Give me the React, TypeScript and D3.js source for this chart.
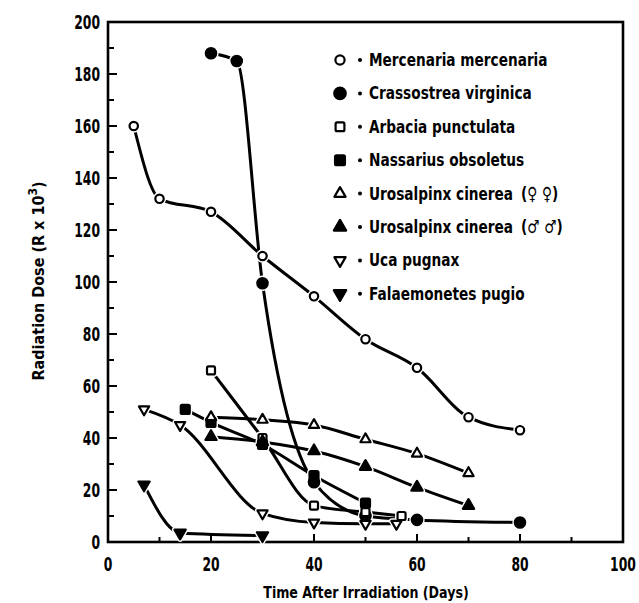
import React from "react";
import * as d3 from "d3";

const W = 639;
const H = 603;

// ---- data ----
const mercenariaDays = [5, 10, 20, 30, 40, 50, 60, 70, 80];
const mercenariaDose = [160, 132, 127, 110, 94.5, 78, 67, 48, 43];

const crassostreaDays = [20, 25, 30, 40, 50, 60, 80];
const crassostreaDose = [188, 185, 99.5, 23, 10, 8.5, 7.5];

const arbaciaDays = [20, 30, 40, 50, 57];
const arbaciaDose = [66, 40, 14, 11.5, 10];

const nassariusDays = [15, 20, 30, 40, 50];
const nassariusDose = [51, 46, 37.5, 25.5, 15];

const uroFemaleDays = [20, 30, 40, 50, 60, 70];
const uroFemaleDose = [48, 47, 45, 39.5, 34, 26.5];

const uroMaleDays = [20, 30, 40, 50, 60, 70];
const uroMaleDose = [40.5, 38.5, 35, 29, 21, 14];

const ucaDays = [7, 14, 30, 40, 50, 56];
const ucaDose = [51, 45, 11, 7.5, 7, 7];

const palaemonetesDays = [7, 14, 30];
const palaemonetesDose = [22, 3.5, 2.5];

const speciesNames = [
  "Mercenaria mercenaria",
  "Crassostrea virginica",
  "Arbacia punctulata",
  "Nassarius obsoletus",
  "Urosalpinx cinerea",
  "Urosalpinx cinerea",
  "Uca pugnax",
  "Falaemonetes pugio",
];
const sexLabels = ["", "", "", "", "(\u2640 \u2640)", "(\u2642 \u2642)", "", ""];
const markerTypes = [
  "circle-open",
  "circle-filled",
  "square-open",
  "square-filled",
  "tri-up-open",
  "tri-up-filled",
  "tri-down-open",
  "tri-down-filled",
];

const xTicks = [0, 20, 40, 60, 80, 100];
const yTicks = [0, 20, 40, 60, 80, 100, 120, 140, 160, 180, 200];

const seriesDays = [
  mercenariaDays,
  crassostreaDays,
  arbaciaDays,
  nassariusDays,
  uroFemaleDays,
  uroMaleDays,
  ucaDays,
  palaemonetesDays,
];
const seriesDose = [
  mercenariaDose,
  crassostreaDose,
  arbaciaDose,
  nassariusDose,
  uroFemaleDose,
  uroMaleDose,
  ucaDose,
  palaemonetesDose,
];

const FONT = "'DejaVu Sans', sans-serif";

const plot = { left: 108, right: 623, top: 22, bottom: 542 };
const x = d3.scaleLinear().domain([0, 100]).range([plot.left, plot.right]);
const y = d3.scaleLinear().domain([0, 200]).range([plot.bottom, plot.top]);

function CText({
  x: tx,
  y: ty,
  sx = 0.8,
  size,
  anchor = "start",
  rotate = 0,
  children,
}: {
  x: number;
  y: number;
  sx?: number;
  size: number;
  anchor?: string;
  rotate?: number;
  children: React.ReactNode;
}) {
  return (
    <g transform={`translate(${tx},${ty}) rotate(${rotate})`}>
      <text transform={`scale(${sx},1)`} textAnchor={anchor} fontSize={size}>
        {children}
      </text>
    </g>
  );
}

function Marker({
  type,
  cx,
  cy,
  halo,
  k = 1,
}: {
  type: string;
  cx: number;
  cy: number;
  halo?: boolean;
  k?: number;
}) {
  const filled = type.endsWith("filled");
  const shape = type.startsWith("tri") ? type.split("-").slice(0, 2).join("-") : type.split("-")[0];
  const fill = halo ? "white" : filled ? "black" : "white";
  const stroke = halo ? "white" : "black";
  const sw = halo ? 5 : 2.2;
  if (shape === "circle") {
    const r = (filled ? 5.2 : 4.2) * k;
    return <circle cx={cx} cy={cy} r={r} fill={fill} stroke={stroke} strokeWidth={sw} />;
  }
  if (shape === "square") {
    const s = (filled ? 9 : 8) * k;
    return (
      <rect x={cx - s / 2} y={cy - s / 2} width={s} height={s} rx={1.5} fill={fill} stroke={stroke} strokeWidth={sw} />
    );
  }
  const up = shape === "tri-up";
  const area = (filled ? 55 : 45) * k * k;
  const d = d3.symbol().type(d3.symbolTriangle).size(area)() as string;
  return (
    <path
      d={d}
      transform={`translate(${cx},${cy}) rotate(${up ? 0 : 180})`}
      fill={fill}
      stroke={stroke}
      strokeWidth={sw}
      strokeLinejoin="round"
    />
  );
}

export default function App() {
  const line = d3
    .line<[number, number]>()
    .x((d) => x(d[0]))
    .y((d) => y(d[1]))
    .curve(d3.curveMonotoneX);

  const series = seriesDays.map((days, i) => ({
    type: markerTypes[i],
    pts: days.map((dd, j) => [dd, seriesDose[i][j]] as [number, number]),
  }));

  const yMinor = d3.range(0, 201, 10);
  const xMinor = d3.range(0, 101, 10);

  const legendX = 340;
  const legendY0 = 60;
  const legendDy = 33.4;

  return (
    <svg
      width={W}
      height={H}
      style={{ position: "absolute", left: 0, top: 0, background: "white" }}
      fontFamily={FONT}
      fontWeight="bold"
    >
      <rect x={0} y={0} width={W} height={H} fill="white" />
      {/* frame */}
      <rect
        x={plot.left}
        y={plot.top}
        width={plot.right - plot.left}
        height={plot.bottom - plot.top}
        fill="none"
        stroke="black"
        strokeWidth={2.6}
      />
      {/* y ticks */}
      {yMinor.map((v) => (
        <line
          key={"yt" + v}
          x1={plot.left}
          x2={plot.left + (v % 20 === 0 ? 9 : 6)}
          y1={y(v)}
          y2={y(v)}
          stroke="black"
          strokeWidth={2}
        />
      ))}
      {/* x ticks */}
      {xMinor.map((v) => (
        <line
          key={"xt" + v}
          x1={x(v)}
          x2={x(v)}
          y1={plot.bottom}
          y2={plot.bottom - (v % 20 === 0 ? 8 : 5)}
          stroke="black"
          strokeWidth={2}
        />
      ))}
      {yTicks.map((v) => (
        <CText key={"yl" + v} x={100} y={y(v) + 7} size={19} sx={0.65} anchor="end">
          {v}
        </CText>
      ))}
      {xTicks.map((v) => (
        <CText key={"xl" + v} x={x(v)} y={571} size={19} sx={0.65} anchor="middle">
          {v}
        </CText>
      ))}
      <CText x={366} y={598} size={16} sx={0.79} anchor="middle">
        Time After Irradiation (Days)
      </CText>
      <CText x={44} y={281} size={16} sx={0.9} anchor="middle" rotate={-90}>
        Radiation Dose (R x 10
        <tspan dy={-7} fontSize={12}>
          3
        </tspan>
        <tspan dy={7}>)</tspan>
      </CText>

      {/* lines */}
      {series.map((s, i) => (
        <path key={"l" + i} d={line(s.pts) as string} fill="none" stroke="black" strokeWidth={3} strokeLinecap="round" />
      ))}
      {/* marker halos */}
      {series.map((s, i) =>
        s.pts.map((p, j) => <Marker key={`h${i}-${j}`} type={s.type} cx={x(p[0])} cy={y(p[1])} halo />)
      )}
      {series.map((s, i) =>
        s.pts.map((p, j) => <Marker key={`m${i}-${j}`} type={s.type} cx={x(p[0])} cy={y(p[1])} />)
      )}

      {/* legend */}
      {speciesNames.map((name, i) => {
        const ly = legendY0 + i * legendDy;
        return (
          <g key={"lg" + i}>
            <Marker type={markerTypes[i]} cx={legendX} cy={ly} k={1.1} />
            <circle cx={360} cy={ly} r={2} fill="black" />
            <CText x={369} y={ly + 6} size={18} sx={0.76}>
              {name}
            </CText>
            {sexLabels[i] && (
              <CText x={521} y={ly + 6} size={18} sx={0.76}>
                {sexLabels[i]}
              </CText>
            )}
          </g>
        );
      })}
    </svg>
  );
}
